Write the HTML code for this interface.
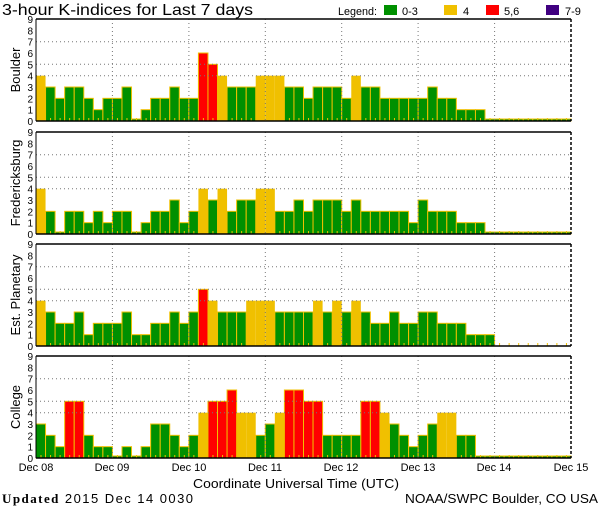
<!DOCTYPE html>
<html><head><meta charset="utf-8"><style>
html,body{margin:0;padding:0;background:#fff}
svg{display:block;font-family:"Liberation Sans",sans-serif}
</style></head><body>
<svg id="s" width="600" height="510" xmlns="http://www.w3.org/2000/svg">
<rect width="600" height="510" fill="#fff"/>
<text x="2" y="15" font-size="16" fill="#000" textLength="251" lengthAdjust="spacingAndGlyphs">3-hour K-indices for Last 7 days</text>
<text x="338" y="15" font-size="11" textLength="39" lengthAdjust="spacingAndGlyphs">Legend:</text>
<rect x="384" y="5" width="13" height="10" fill="#009000"/><text x="402" y="15" font-size="11">0-3</text>
<rect x="444" y="5" width="13" height="10" fill="#f0c000"/><text x="463" y="15" font-size="11">4</text>
<rect x="486" y="5" width="13" height="10" fill="#ff0000"/><text x="504" y="15" font-size="11">5,6</text>
<rect x="546" y="5" width="13" height="10" fill="#400080"/><text x="565" y="15" font-size="11">7-9</text>
<g id="panels"></g>
<g font-size="13" text-anchor="middle">
<text transform="translate(20,70) rotate(-90)">Boulder</text>
<text transform="translate(20,183) rotate(-90)">Fredericksburg</text>
<text transform="translate(20,295) rotate(-90)">Est. Planetary</text>
<text transform="translate(20,407) rotate(-90)">College</text>
</g>
<g font-size="11" text-anchor="middle">
<text x="36" y="471">Dec 08</text><text x="112" y="471">Dec 09</text><text x="189" y="471">Dec 10</text><text x="265" y="471">Dec 11</text><text x="341" y="471">Dec 12</text><text x="418" y="471">Dec 13</text><text x="494" y="471">Dec 14</text><text x="571" y="471">Dec 15</text>
</g>
<text x="193" y="488" font-size="13" textLength="206" lengthAdjust="spacingAndGlyphs">Coordinate Universal Time (UTC)</text>
<text x="2" y="503" font-size="13" textLength="191" lengthAdjust="spacing"><tspan font-family="Liberation Serif" font-weight="bold">Updated</tspan> 2015 Dec 14 0030</text>
<text x="405" y="503" font-size="13" textLength="193" lengthAdjust="spacingAndGlyphs">NOAA/SWPC Boulder, CO USA</text>
</svg>
<script>
var data=[
[4,3,2,3,3,2,1,2,2,3,0,1,2,2,3,2,2,6,5,4,3,3,3,4,4,4,3,3,2,3,3,3,2,4,3,3,2,2,2,2,2,3,2,2,1,1,1,0,0,0,0,0,0,0,0,0],
[4,2,0,2,2,1,2,1,2,2,0,1,2,2,3,1,2,4,3,4,2,3,3,4,4,2,2,3,2,3,3,3,2,3,2,2,2,2,2,1,3,2,2,2,1,1,1,0,0,0,0,0,0,0,0,0],
[4,3,2,2,3,1,2,2,2,3,1,1,2,2,3,2,3,5,4,3,3,3,4,4,4,3,3,3,3,4,3,4,3,4,3,2,2,3,2,2,3,3,2,2,2,1,1,1,-1,-1,-1,-1,-1,-1,-1,-1],
[3,2,1,5,5,2,1,1,0,1,0,1,3,3,2,1,2,4,5,5,6,4,4,2,3,4,6,6,5,5,2,2,2,2,5,5,4,3,2,1,2,3,4,4,2,2,0,0,0,0,0,0,0,0,0,0]];
var tops=[19,132,244,356],L=36,W=535,H=102,u=H/9,bw=W/56,h='';
function col(v){return v<=3?'#009000':v==4?'#f0c000':v<=6?'#ff0000':'#400080';}
for(var p=0;p<4;p++){var T=tops[p],B=T+H;
 for(var i=0;i<56;i++){var v=data[p][i],x=L+i*bw;
  if(v>=0){var hh=v==0?2:v*u;var c=col(v);
   h+='<rect x="'+x.toFixed(2)+'" y="'+(B-hh).toFixed(2)+'" width="'+bw.toFixed(2)+'" height="'+hh.toFixed(2)+'" fill="'+c+'"'+(v==4?'':' stroke="#f0c000" stroke-width="1"')+'/>';}
  h+='<rect x="'+(x+4.5).toFixed(2)+'" y="'+(B-3)+'" width="1" height="3" fill="#f0c000"/>';}
 [4,5,7].forEach(function(g){var y=(B-g*u).toFixed(1);h+='<line x1="'+L+'" x2="'+(L+W)+'" y1="'+y+'" y2="'+y+'" stroke="#777" stroke-dasharray="1,3"/>';});
 for(var d=1;d<7;d++){var x=(L+d*W/7).toFixed(1);h+='<line x1="'+x+'" x2="'+x+'" y1="'+T+'" y2="'+B+'" stroke="#777" stroke-dasharray="1,3"/>';}
 h+='<line x1="'+L+'" x2="'+(L+W)+'" y1="'+T+'" y2="'+T+'" stroke="#000" stroke-width="1.5"/>';
 h+='<line x1="'+L+'" x2="'+(L+W)+'" y1="'+B+'" y2="'+B+'" stroke="#000" stroke-width="1.5"/>';
 h+='<line x1="'+L+'" x2="'+L+'" y1="'+T+'" y2="'+B+'" stroke="#000" stroke-width="1"/>';
 h+='<line x1="'+(L+W)+'" x2="'+(L+W)+'" y1="'+T+'" y2="'+B+'" stroke="#000" stroke-width="1.5" stroke-dasharray="3,2"/>';
 for(var k=0;k<=9;k++){h+='<text x="33" y="'+(B-k*u+4).toFixed(1)+'" font-size="10" text-anchor="end">'+k+'</text>';}
}
document.getElementById('panels').innerHTML=h;
</script>
</body></html>
